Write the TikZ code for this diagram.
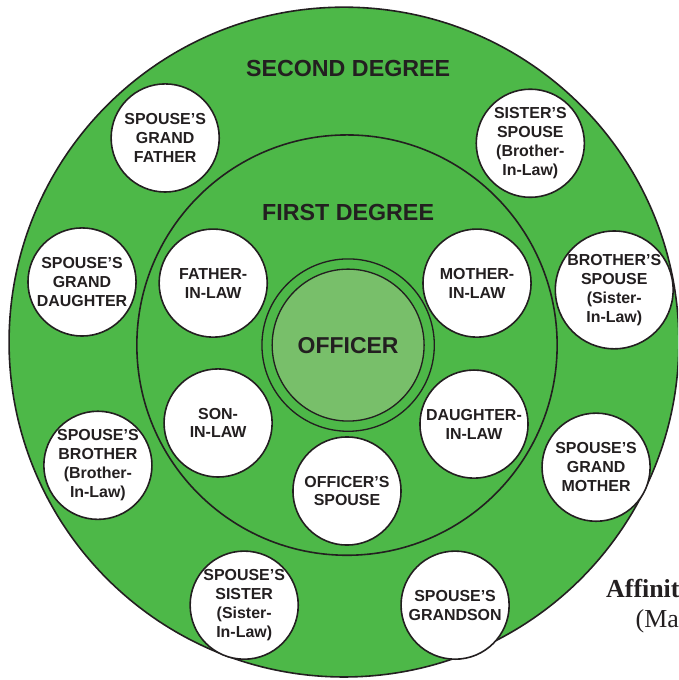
\documentclass[tikz,border=0pt]{standalone}
\usepackage{fontspec}
\setmainfont{Liberation Sans}
\newfontfamily\serifont{Liberation Serif}
\usepackage{xcolor}
\usepackage{tikz}
\definecolor{leaf}{HTML}{4DB848}
\definecolor{paleleaf}{HTML}{78BF6A}
\definecolor{ink}{HTML}{231F20}
\tikzset{
  kin/.style={circle, draw=ink, line width=1.2pt, fill=white, minimum size=2.86cm, inner sep=0pt, align=center, text=ink, font=\fontsize{12}{14.25}\selectfont\bfseries},
  degree/.style={text=ink, font=\fontsize{17.5}{21}\selectfont\bfseries},
  band/.style={draw=ink, line width=1.2pt},
  caption/.style={anchor=base west, text=ink, inner sep=0pt, font=\fontsize{19.5}{23}\selectfont\serifont},
}
\begin{document}
\begin{tikzpicture}
  \useasboundingbox (-9.21,-8.86) rectangle (8.73,9.13);
  \clip (-9.21,-8.86) rectangle (8.73,9.13);
  \draw[band, fill=leaf] (-0.11,0.08) circle (8.86);
  \draw[band] (-0.03,0) circle (5.56);
  \draw[ink, line width=1pt] (0,0) circle (2.28);
  \node[circle, draw=ink, line width=1pt, fill=paleleaf, minimum size=4.02cm, inner sep=0pt, text=ink, font=\fontsize{17.3}{21}\selectfont\bfseries] (officer) at (0,0) {OFFICER};
  \node[degree] (second) at (0,7.33) {SECOND DEGREE};
  \node[degree] (first) at (0,3.52) {FIRST DEGREE};
  \node[kin] (father) at (-3.57,1.64) {FATHER-\\IN-LAW};
  \node[kin] (mother) at (3.41,1.64) {MOTHER-\\IN-LAW};
  \node[kin] (son) at (-3.44,-2.06) {SON-\\IN-LAW};
  \node[kin] (daughter) at (3.33,-2.09) {DAUGHTER-\\IN-LAW};
  \node[kin] (spouse) at (-0.03,-3.86) {OFFICER'S\\SPOUSE};
  \node[kin] (gfather) at (-4.84,5.48) {SPOUSE'S\\GRAND\\FATHER};
  \node[kin] (sisspouse) at (4.82,5.34) {SISTER'S\\SPOUSE\\(Brother-\\In-Law)};
  \node[kin] (gdaughter) at (-7.04,1.67) {SPOUSE'S\\GRAND\\DAUGHTER};
  \node[kin] (brospouse) at (7.04,1.46) {BROTHER'S\\SPOUSE\\(Sister-\\In-Law)};
  \node[kin] (spbrother) at (-6.62,-3.18) {SPOUSE'S\\BROTHER\\(Brother-\\In-Law)};
  \node[kin] (gmother) at (6.56,-3.23) {SPOUSE'S\\GRAND\\MOTHER};
  \node[kin] (spsister) at (-2.75,-6.88) {SPOUSE'S\\SISTER\\(Sister-\\In-Law)};
  \node[kin] (grandson) at (2.83,-6.88) {SPOUSE'S\\GRANDSON};
  \node[caption, font=\fontsize{19.5}{23}\selectfont\serifont\bfseries] (title) at (6.82,-6.67) {Affinit};
  \node[caption] (note) at (7.6,-7.48) {(Ma};
\end{tikzpicture}
\end{document}
